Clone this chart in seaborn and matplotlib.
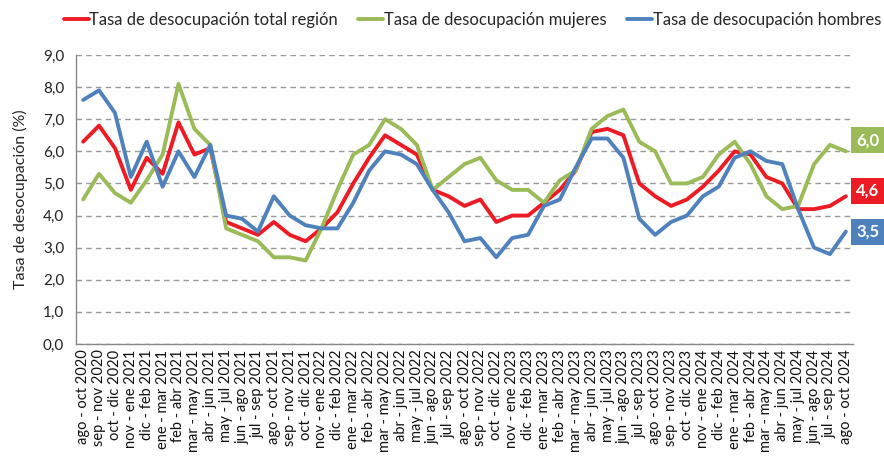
import numpy as np
import pandas as pd
import matplotlib
matplotlib.use("Agg")
import matplotlib.pyplot as plt
from matplotlib.ticker import FixedLocator, FuncFormatter
import seaborn as sns

# periods (moving quarters)
periods = [
    "ago - oct 2020", "sep - nov 2020", "oct - dic 2020", "nov - ene 2021",
    "dic - feb 2021", "ene - mar 2021", "feb - abr 2021", "mar - may 2021",
    "abr - jun 2021", "may - jul 2021", "jun - ago 2021", "jul - sep 2021",
    "ago - oct 2021", "sep - nov 2021", "oct - dic 2021", "nov - ene 2022",
    "dic - feb 2022", "ene - mar 2022", "feb - abr 2022", "mar - may 2022",
    "abr - jun 2022", "may - jul 2022", "jun - ago 2022", "jul - sep 2022",
    "ago - oct 2022", "sep - nov 2022", "oct - dic 2022", "nov - ene 2023",
    "dic - feb 2023", "ene - mar 2023", "feb - abr 2023", "mar - may 2023",
    "abr - jun 2023", "may - jul 2023", "jun - ago 2023", "jul - sep 2023",
    "ago - oct 2023", "sep - nov 2023", "oct - dic 2023", "nov - ene 2024",
    "dic - feb 2024", "ene - mar 2024", "feb - abr 2024", "mar - may 2024",
    "abr - jun 2024", "may - jul 2024", "jun - ago 2024", "jul - sep 2024",
    "ago - oct 2024",
]

total = [
    6.3, 6.8, 6.1, 4.8, 5.8, 5.3, 6.9, 5.9, 6.1, 3.8, 3.6, 3.4, 3.8, 3.4, 3.2,
    3.6, 4.1, 5.0, 5.8, 6.5, 6.2, 5.9, 4.8, 4.6, 4.3, 4.5, 3.8, 4.0, 4.0, 4.4,
    4.8, 5.4, 6.6, 6.7, 6.5, 5.0, 4.6, 4.3, 4.5, 4.9, 5.4, 6.0, 5.9, 5.2, 5.0,
    4.2, 4.2, 4.3, 4.6,
]
mujeres = [
    4.5, 5.3, 4.7, 4.4, 5.1, 5.9, 8.1, 6.7, 6.2, 3.6, 3.4, 3.2, 2.7, 2.7, 2.6,
    3.6, 4.8, 5.9, 6.2, 7.0, 6.7, 6.2, 4.8, 5.2, 5.6, 5.8, 5.1, 4.8, 4.8, 4.4,
    5.1, 5.4, 6.7, 7.1, 7.3, 6.3, 6.0, 5.0, 5.0, 5.2, 5.9, 6.3, 5.6, 4.6, 4.2,
    4.3, 5.6, 6.2, 6.0,
]
hombres = [
    7.6, 7.9, 7.2, 5.2, 6.3, 4.9, 6.0, 5.2, 6.2, 4.0, 3.9, 3.5, 4.6, 4.0, 3.7,
    3.6, 3.6, 4.4, 5.4, 6.0, 5.9, 5.6, 4.8, 4.1, 3.2, 3.3, 2.7, 3.3, 3.4, 4.3,
    4.5, 5.5, 6.4, 6.4, 5.8, 3.9, 3.4, 3.8, 4.0, 4.6, 4.9, 5.8, 6.0, 5.7, 5.6,
    4.2, 3.0, 2.8, 3.5,
]

series_names = [
    "Tasa de desocupación total región",
    "Tasa de desocupación mujeres",
    "Tasa de desocupación hombres",
]
series_colors = ["#ED1C24", "#9BBB59", "#4F81BD"]
end_labels = ["4,6", "6,0", "3,5"]

sns.set_style("white")
plt.rcParams["font.family"] = ["Lato", "DejaVu Sans"]

df = pd.DataFrame({
    "pos": list(range(len(periods))) * 3,
    "valor": total + mujeres + hombres,
    "serie": [series_names[0]] * len(periods) + [series_names[1]] * len(periods)
             + [series_names[2]] * len(periods),
})

fig = plt.figure(figsize=(8.84, 4.65), dpi=100)
ax = fig.add_axes([76 / 884, 1 - 344 / 465, (853 - 76) / 884, (344 - 55) / 465])

sns.lineplot(data=df, x="pos", y="valor", hue="serie", hue_order=series_names,
             palette=series_colors, linewidth=2.8, ax=ax)

ax.set_xlim(-0.45, len(periods) - 0.55)
ax.set_ylim(0, 9)
ax.set_yticks(np.arange(0, 9.1, 1.0))
ax.yaxis.set_major_formatter(FuncFormatter(lambda v, p: f"{v:.1f}".replace(".", ",")))
ax.tick_params(axis="y", labelsize=11, color="#888888", length=5, width=1,
               labelcolor="#222222")
ax.grid(axis="y", linestyle=(0, (4, 3)), color="#999999", linewidth=1)
ax.set_axisbelow(True)

ax.set_xticks(range(len(periods)))
ax.set_xticklabels(periods, rotation=90, fontsize=10.5)
ax.tick_params(axis="x", which="major", length=0, pad=4, labelcolor="#111111")
ax.xaxis.set_minor_locator(FixedLocator(np.arange(-0.5, len(periods), 1.0)))
ax.tick_params(axis="x", which="minor", length=5, color="#888888", width=1)
ax.set_xlabel("")
ax.set_ylabel("Tasa de desocupación (%)", fontsize=11.5, labelpad=11)

for side in ["top", "right"]:
    ax.spines[side].set_visible(False)
for side in ["left", "bottom"]:
    ax.spines[side].set_color("#888888")
    ax.spines[side].set_linewidth(1)

# end-of-series value boxes
last = len(periods) - 1
offsets = [4, 8, 0]
for vals, lab, col, dy in zip([total, mujeres, hombres], end_labels, series_colors, offsets):
    ax.annotate(lab, xy=(last, vals[-1]), xytext=(7.5, dy), textcoords="offset points",
                ha="left", va="center", fontsize=12, fontweight="bold", color="white",
                bbox=dict(boxstyle="square,pad=0.3", fc=col, ec="none"),
                annotation_clip=False)

handles, labels = ax.get_legend_handles_labels()
ax.legend(handles, labels, loc="upper center", bbox_to_anchor=(0.51, 1.2), ncol=3,
          frameon=False, fontsize=12, handlelength=1.5, handletextpad=0.05,
          columnspacing=1.2)

fig.savefig("out.png", dpi=100)
